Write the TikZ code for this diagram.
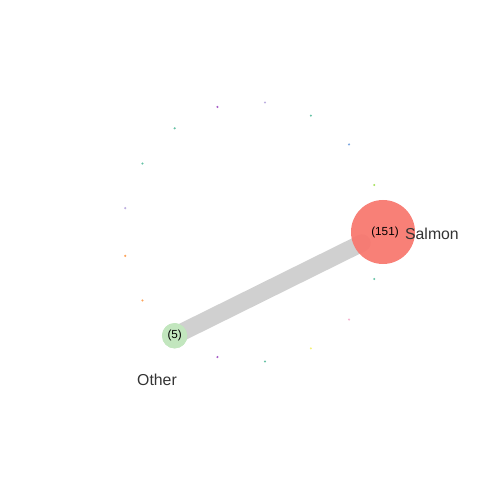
\documentclass[tikz,border=0pt]{standalone}
\usepackage{fontspec}
\setmainfont{Liberation Sans}
\usepackage{xcolor}
\usetikzlibrary{positioning, calc}

\definecolor{salmonred}{HTML}{F8766D}
\definecolor{othergreen}{HTML}{C2E6BE}
\definecolor{edgegray}{HTML}{C8C8C8}
\definecolor{labelgray}{HTML}{333333}
\definecolor{dlime}{HTML}{A6E05A}
\definecolor{dblue}{HTML}{7FA8E0}
\definecolor{dteal}{HTML}{66C2A5}
\definecolor{dlav}{HTML}{BEB0E0}
\definecolor{dpurple}{HTML}{A85FC8}
\definecolor{dorange}{HTML}{FDA45C}
\definecolor{dyellow}{HTML}{F5F27A}
\definecolor{dpink}{HTML}{F7B6D2}

\begin{document}
\begin{tikzpicture}[
    x=0.03cm, y=-0.03cm,
    vtx/.style={circle, inner sep=0pt, draw=none},
    dotv/.style={vtx, minimum size=0.07cm},
    bigv/.style={vtx, fill=salmonred, minimum size=1.92cm},
    smallv/.style={vtx, fill=othergreen, minimum size=0.76cm},
    cnt/.style={font=\fontsize{10}{12}\selectfont, text=black},
    vlabel/.style={font=\fontsize{13.5}{16}\selectfont, text=labelgray},
    edgeline/.style={edgegray, line width=0.52cm, line cap=round, opacity=0.85},
]

\useasboundingbox (0,0) rectangle (480,480);

% Circle layout: centre and radius
\def\cx{253}
\def\cy{232}
\def\rad{130}

% --- Small vertices round the circle ---
\foreach \k/\col in {1/dlime, 2/dblue, 3/dteal, 4/dlav, 5/dpurple,
                     6/dteal, 7/dteal, 8/dlav, 9/dorange, 10/dorange,
                     12/dpurple, 13/dteal, 14/dyellow, 15/dpink, 16/dteal}
  \node[dotv, fill=\col] (v\k)
    at ({\cx+\rad*cos(\k*360/17)}, {\cy-\rad*sin(\k*360/17)}) {};

% --- Main vertices ---
\coordinate (salmonend) at (362, 243);
\node[smallv] (other)
  at ({\cx+\rad*cos(11*360/17)}, {\cy-\rad*sin(11*360/17)}) {};

% Edge between the two
\draw[edgeline] (other.center) -- (salmonend);

\node[bigv, fill opacity=0.93] (salmon) at ({\cx+\rad}, \cy) {};
\node[cnt] (salmoncnt) at (385, 232) {(151)};
\node[vlabel, anchor=west] (salmonname) at (401, 234) {Salmon};

\node[smallv] at (other) {};
\node[cnt] (othercnt) at (other) {(5)};
\node[vlabel] (othername) at (157, 380) {Other};

\end{tikzpicture}
\end{document}
